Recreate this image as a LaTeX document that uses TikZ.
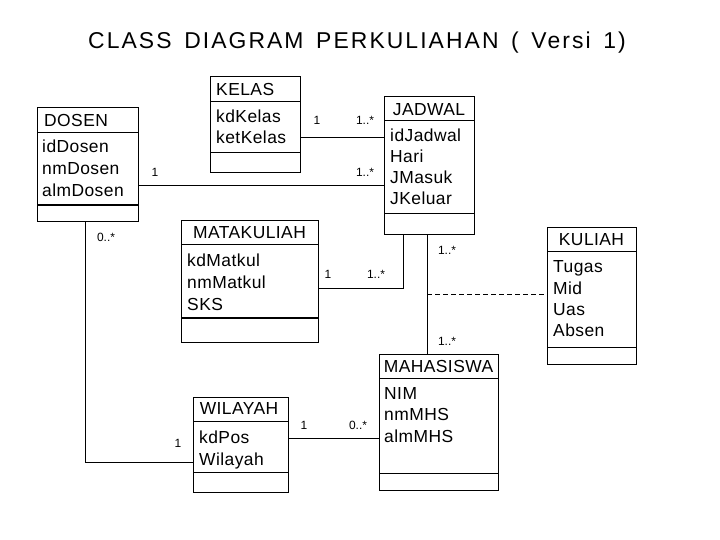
\documentclass[tikz,border=0pt]{standalone}
\usepackage{fontspec}
\setmainfont{Liberation Sans}
\newfontfamily\boxfont[LetterSpace=2.5]{Liberation Sans}
\newfontfamily\titlefam[LetterSpace=9,WordSpace=1.5]{Liberation Sans}
\tikzset{
  box/.style={draw, line width=1bp, inner sep=0pt, outer sep=0pt, anchor=north west},
  hdr/.style={font=\boxfont\fontsize{17.5}{20}\selectfont, inner sep=0pt},
  attr/.style={font=\boxfont\fontsize{17.5}{22}\selectfont, inner sep=0pt, anchor=base west},
  mult/.style={font=\fontsize{12}{14}\selectfont, inner sep=0pt},
  link/.style={line width=1bp},
  titlefont/.style={font=\titlefam\fontsize{23}{27}\selectfont, inner sep=0pt, anchor=base},
}
% name, x1, y1, x2, y2, header line y, separator y, separator width
\newcommand\umlbox[8]{%
  \node[box, minimum width={(#4-#2)*1bp}, minimum height={(#5-#3)*1bp}] (#1) at (#2,#3) {};
  \draw[line width=1bp] (#2,#6) -- (#4,#6);
  \draw[line width=#8] (#2,#7) -- (#4,#7);
}
% name, x, first baseline y, spacing, list
\newcommand\umlattrs[5]{%
  \foreach \t [count=\i] in {#5} \node[attr] (#1-a\i) at (#2, {#3+#4*(\i-1)}) {\t};
}
\begin{document}
\begin{tikzpicture}[x=1bp, y=-1bp]
\useasboundingbox (0,0) rectangle (720,540);
\fill[white] (0,0) rectangle (720,540);

\node[titlefont] (title) at (357,49) {CLASS DIAGRAM PERKULIAHAN ( Versi 1)};

% DOSEN
\umlbox{dosen}{37}{108}{138}{222}{133}{205}{2bp}
\node[hdr, anchor=west] (dosen-h) at (44,121) {DOSEN};
\umlattrs{dosen}{42}{153}{22}{idDosen,nmDosen,almDosen}

% KELAS
\umlbox{kelas}{210}{77}{300}{173}{102}{153}{1bp}
\node[hdr, anchor=west] (kelas-h) at (216,89.5) {KELAS};
\umlattrs{kelas}{216}{123}{20.5}{kdKelas,ketKelas}

% JADWAL
\umlbox{jadwal}{384}{97}{474}{235}{121}{214}{1bp}
\node[hdr] (jadwal-h) at (429,109.5) {JADWAL};
\umlattrs{jadwal}{390}{142}{21}{idJadwal,Hari,JMasuk,JKeluar}

% MATAKULIAH
\umlbox{matkul}{181}{221}{318}{342}{245}{318}{2bp}
\node[hdr] (matkul-h) at (249.5,233) {MATAKULIAH};
\umlattrs{matkul}{187}{267}{21.5}{kdMatkul,nmMatkul,SKS}

% KULIAH
\umlbox{kuliah}{547}{228}{636}{364}{252}{347}{1bp}
\node[hdr] (kuliah-h) at (591.5,240) {KULIAH};
\umlattrs{kuliah}{553}{273}{21.3}{Tugas,Mid,Uas,Absen}

% MAHASISWA
\umlbox{mhs}{379}{354}{498}{490}{378}{473}{1bp}
\node[hdr] (mhs-h) at (438.5,366) {MAHASISWA};
\umlattrs{mhs}{384}{399}{21.5}{NIM,nmMHS,almMHS}

% WILAYAH
\umlbox{wilayah}{193}{397}{288}{492}{421}{472}{1bp}
\node[hdr] (wilayah-h) at (239,409) {WILAYAH};
\umlattrs{wilayah}{199}{443}{22}{kdPos,Wilayah}

% connectors
\draw[link] (kelas.east |- 0,138) -- (jadwal.west |- 0,138);
\draw[link] (dosen.east |- 0,186) -- (jadwal.west |- 0,186);
\draw[link] (jadwal.south -| 403,0) |- (matkul.east |- 0,288);
\draw[link] (jadwal.south -| 427,0) -- (mhs.north -| 427,0);
\coordinate (assoc) at (427,294);
\draw[link, dashed, dash pattern=on 5bp off 3bp] (assoc) -- (kuliah.west |- assoc);
\draw[link] (dosen.south -| 85,0) |- (wilayah.west |- 0,462);
\draw[link] (wilayah.east |- 0,438) -- (mhs.west |- 0,438);

% multiplicities
\node[mult] (m1) at (317,120) {1};
\node[mult] (m2) at (365,120) {1..*};
\node[mult] (m3) at (155,172) {1};
\node[mult] (m4) at (365,172) {1..*};
\node[mult] (m5) at (106,237) {0..*};
\node[mult] (m6) at (328,274) {1};
\node[mult] (m7) at (376,274) {1..*};
\node[mult] (m8) at (447,250) {1..*};
\node[mult] (m9) at (447,341) {1..*};
\node[mult] (m10) at (304,425) {1};
\node[mult] (m11) at (358,425) {0..*};
\node[mult] (m12) at (178,443) {1};
\end{tikzpicture}
\end{document}
